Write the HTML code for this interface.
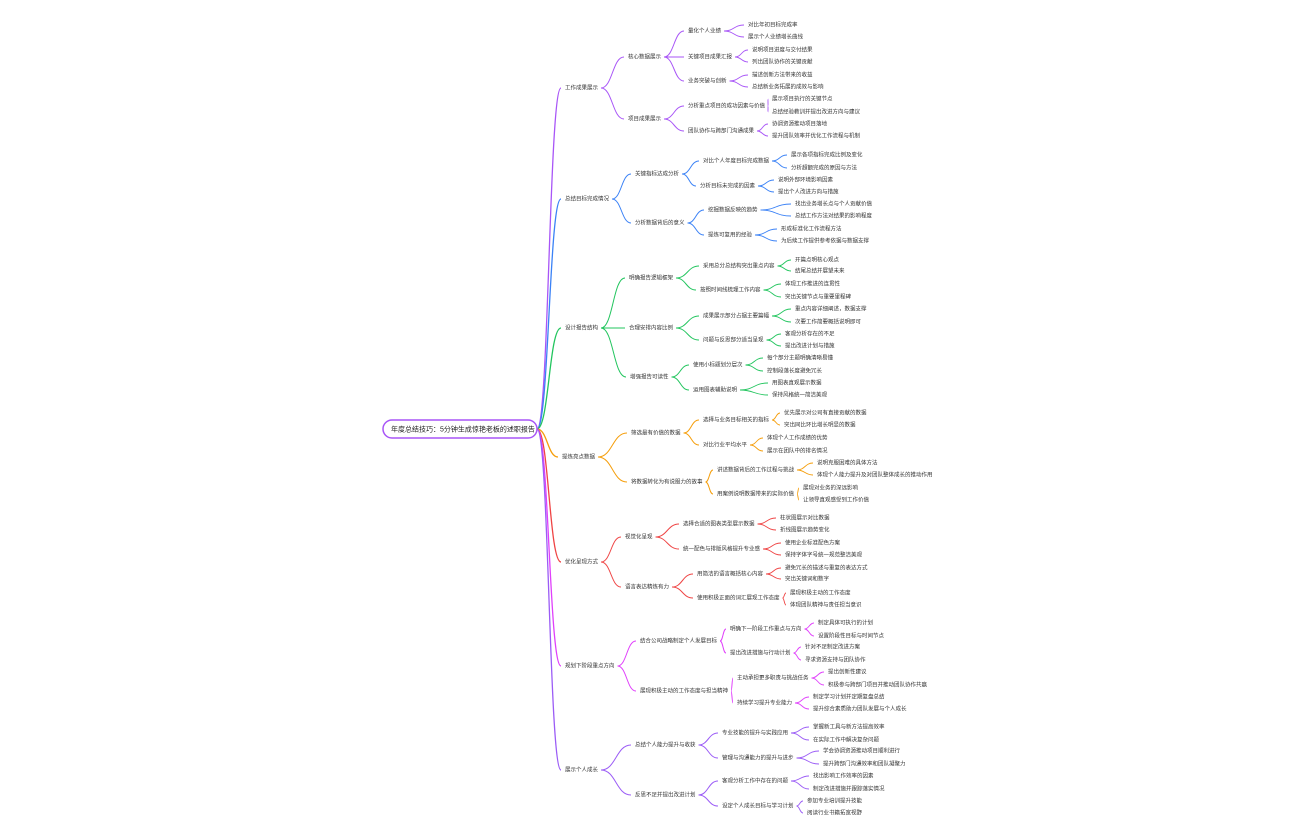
<!DOCTYPE html>
<html><head><meta charset="utf-8"><style>
html,body{margin:0;padding:0;background:#fff;width:1296px;height:840px;overflow:hidden}
svg text{font-family:"Liberation Sans","Noto Sans CJK SC",sans-serif;font-size:5.5px;fill:#333;dominant-baseline:middle}
</style></head><body>
<svg id="s" width="1296" height="840" xmlns="http://www.w3.org/2000/svg">
<g id="edges" fill="none"></g>
<rect x="383" y="420" width="154" height="18" rx="9" fill="#fff" stroke="#a855f7" stroke-width="1.5"/>
<text x="391" y="429.5" style="font-size:7px;fill:#222">年度总结技巧：5分钟生成惊艳老板的述职报告</text>
<g id="t">
<text class="a" x="565" y="88">工作成果展示</text>
<text class="b" x="628" y="57">核心数据展示</text>
<text class="c" x="688" y="31">量化个人业绩</text>
<text class="d" x="748" y="25">对比年初目标完成率</text>
<text class="d" x="748" y="37">展示个人业绩增长曲线</text>
<text class="c" x="688" y="57">关键项目成果汇报</text>
<text class="d" x="752" y="50">说明项目进度与交付结果</text>
<text class="d" x="752" y="62">列出团队协作的关键贡献</text>
<text class="c" x="688" y="81">业务突破与创新</text>
<text class="d" x="752" y="75">描述创新方法带来的收益</text>
<text class="d" x="752" y="87">总结新业务拓展的成效与影响</text>
<text class="b" x="628" y="119">项目成果展示</text>
<text class="c" x="688" y="106">分析重点项目的成功因素与价值</text>
<text class="d" x="772" y="99">展示项目执行的关键节点</text>
<text class="d" x="772" y="112">总结经验教训并提出改进方向与建议</text>
<text class="c" x="688" y="131">团队协作与跨部门沟通成果</text>
<text class="d" x="772" y="124">协调资源推动项目落地</text>
<text class="d" x="772" y="136">提升团队效率并优化工作流程与机制</text>

<text class="a" x="565" y="199">总结目标完成情况</text>
<text class="b" x="635" y="174">关键指标达成分析</text>
<text class="c" x="703" y="161">对比个人年度目标完成数据</text>
<text class="d" x="791" y="155">展示各项指标完成比例及变化</text>
<text class="d" x="791" y="168">分析超额完成的原因与方法</text>
<text class="c" x="700" y="186">分析目标未完成的因素</text>
<text class="d" x="778" y="180">说明外部环境影响因素</text>
<text class="d" x="778" y="192">提出个人改进方向与措施</text>
<text class="b" x="635" y="223">分析数据背后的意义</text>
<text class="c" x="708" y="210">挖掘数据反映的趋势</text>
<text class="d" x="795" y="204">找出业务增长点与个人贡献价值</text>
<text class="d" x="795" y="216">总结工作方法对结果的影响程度</text>
<text class="c" x="708" y="235">提炼可复用的经验</text>
<text class="d" x="781" y="229">形成标准化工作流程方法</text>
<text class="d" x="781" y="241">为后续工作提供参考依据与数据支撑</text>

<text class="a" x="565" y="328">设计报告结构</text>
<text class="b" x="629" y="278">明确报告逻辑框架</text>
<text class="c" x="703" y="266">采用总分总结构突出重点内容</text>
<text class="d" x="795" y="260">开篇点明核心观点</text>
<text class="d" x="795" y="271">结尾总结并展望未来</text>
<text class="c" x="700" y="290">按照时间线梳理工作内容</text>
<text class="d" x="785" y="284">体现工作推进的连贯性</text>
<text class="d" x="785" y="297">突出关键节点与重要里程碑</text>
<text class="b" x="629" y="328">合理安排内容比例</text>
<text class="c" x="703" y="316">成果展示部分占据主要篇幅</text>
<text class="d" x="795" y="309">重点内容详细阐述，数据支撑</text>
<text class="d" x="795" y="322">次要工作简要概括说明即可</text>
<text class="c" x="703" y="340">问题与反思部分适当呈现</text>
<text class="d" x="785" y="334">客观分析存在的不足</text>
<text class="d" x="785" y="346">提出改进计划与措施</text>
<text class="b" x="630" y="377">增强报告可读性</text>
<text class="c" x="693" y="365">使用小标题划分层次</text>
<text class="d" x="767" y="358">每个部分主题明确清晰易懂</text>
<text class="d" x="767" y="371">控制段落长度避免冗长</text>
<text class="c" x="693" y="390">运用图表辅助说明</text>
<text class="d" x="772" y="383">用图表直观展示数据</text>
<text class="d" x="772" y="395">保持风格统一简洁美观</text>

<text class="a" x="562" y="457">提炼亮点数据</text>
<text class="b" x="631" y="433">筛选最有价值的数据</text>
<text class="c" x="703" y="420">选择与业务目标相关的指标</text>
<text class="d" x="784" y="413">优先展示对公司有直接贡献的数据</text>
<text class="d" x="784" y="425">突出同比环比增长明显的数据</text>
<text class="c" x="703" y="445">对比行业平均水平</text>
<text class="d" x="767" y="438">体现个人工作成绩的优势</text>
<text class="d" x="767" y="451">展示在团队中的排名情况</text>
<text class="b" x="631" y="482">将数据转化为有说服力的故事</text>
<text class="c" x="717" y="470">讲述数据背后的工作过程与挑战</text>
<text class="d" x="817" y="463">说明克服困难的具体方法</text>
<text class="d" x="817" y="475">体现个人能力提升及对团队整体成长的推动作用</text>
<text class="c" x="717" y="494">用案例说明数据带来的实际价值</text>
<text class="d" x="803" y="488">展现对业务的深远影响</text>
<text class="d" x="803" y="500">让领导直观感受到工作价值</text>

<text class="a" x="565" y="562">优化呈现方式</text>
<text class="b" x="625" y="537">视觉化呈现</text>
<text class="c" x="683" y="524">选择合适的图表类型展示数据</text>
<text class="d" x="780" y="518">柱状图展示对比数据</text>
<text class="d" x="780" y="530">折线图展示趋势变化</text>
<text class="c" x="683" y="549">统一配色与排版风格提升专业感</text>
<text class="d" x="785" y="543">使用企业标准配色方案</text>
<text class="d" x="785" y="555">保持字体字号统一规范整洁美观</text>
<text class="b" x="625" y="587">语言表达精炼有力</text>
<text class="c" x="697" y="574">用简洁的语言概括核心内容</text>
<text class="d" x="785" y="568">避免冗长的描述与重复的表达方式</text>
<text class="d" x="785" y="579">突出关键词和数字</text>
<text class="c" x="697" y="598">使用积极正面的词汇展现工作态度</text>
<text class="d" x="790" y="593">展现积极主动的工作态度</text>
<text class="d" x="790" y="605">体现团队精神与责任担当意识</text>

<text class="a" x="565" y="666">规划下阶段重点方向</text>
<text class="b" x="640" y="641">结合公司战略制定个人发展目标</text>
<text class="c" x="730" y="629">明确下一阶段工作重点与方向</text>
<text class="d" x="818" y="623">制定具体可执行的计划</text>
<text class="d" x="818" y="636">设置阶段性目标与时间节点</text>
<text class="c" x="730" y="653">提出改进措施与行动计划</text>
<text class="d" x="805" y="647">针对不足制定改进方案</text>
<text class="d" x="805" y="660">寻求资源支持与团队协作</text>
<text class="b" x="640" y="691">展现积极主动的工作态度与担当精神</text>
<text class="c" x="737" y="678">主动承担更多职责与挑战任务</text>
<text class="d" x="828" y="672">提出创新性建议</text>
<text class="d" x="828" y="685">积极参与跨部门项目并推动团队协作共赢</text>
<text class="c" x="737" y="703">持续学习提升专业能力</text>
<text class="d" x="813" y="697">制定学习计划并定期复盘总结</text>
<text class="d" x="813" y="709">提升综合素质助力团队发展与个人成长</text>

<text class="a" x="565" y="770">展示个人成长</text>
<text class="b" x="635" y="745">总结个人能力提升与收获</text>
<text class="c" x="722" y="733">专业技能的提升与实践应用</text>
<text class="d" x="813" y="727">掌握新工具与新方法提高效率</text>
<text class="d" x="813" y="740">在实际工作中解决复杂问题</text>
<text class="c" x="722" y="758">管理与沟通能力的提升与进步</text>
<text class="d" x="823" y="751">学会协调资源推动项目顺利进行</text>
<text class="d" x="823" y="764">提升跨部门沟通效率和团队凝聚力</text>
<text class="b" x="635" y="795">反思不足并提出改进计划</text>
<text class="c" x="722" y="781">客观分析工作中存在的问题</text>
<text class="d" x="813" y="776">找出影响工作效率的因素</text>
<text class="d" x="813" y="789">制定改进措施并跟踪落实情况</text>
<text class="c" x="722" y="806">设定个人成长目标与学习计划</text>
<text class="d" x="807" y="801">参加专业培训提升技能</text>
<text class="d" x="807" y="813">阅读行业书籍拓宽视野</text>
</g>
</svg>
<script>
(function(){
var colors=["#a855f7","#3b82f6","#22c55e","#f59e0b","#ef4444","#e040fb","#9b5cf6"];
var ts=document.querySelectorAll('#t text');
var g=document.getElementById('edges');
var NS="http://www.w3.org/2000/svg";
function path(x1,y1,x2,y2,c,w){
  var p=document.createElementNS(NS,'path');
  var mx=(x1+x2)/2;
  p.setAttribute('d','M'+x1+','+y1+' C'+mx+','+y1+' '+mx+','+y2+' '+x2+','+y2);
  p.setAttribute('stroke',c);p.setAttribute('stroke-width',w);
  g.appendChild(p);
}
function info(el){var x=+el.getAttribute('x'),y=+el.getAttribute('y');var L=0;try{L=el.getComputedTextLength();}catch(e){L=el.textContent.length*5.5;}return{x:x,y:y,e:x+L};}
var lv={a:1,b:2,c:3,d:4};
var stack=[{x:537,y:429,e:537}];var b=-1;
for(var i=0;i<ts.length;i++){
  var el=ts[i];var L=lv[el.getAttribute('class')];
  if(L==1)b++;
  var n=info(el);var p=stack[L-1];var c=colors[b%colors.length];
  if(L==1)path(537,429,n.x-4,n.y,c,1.3);
  else path(p.e+3,p.y,n.x-4,n.y,c,L==4?0.9:1);
  stack[L]=n;
}
})();
</script>
</body></html>
